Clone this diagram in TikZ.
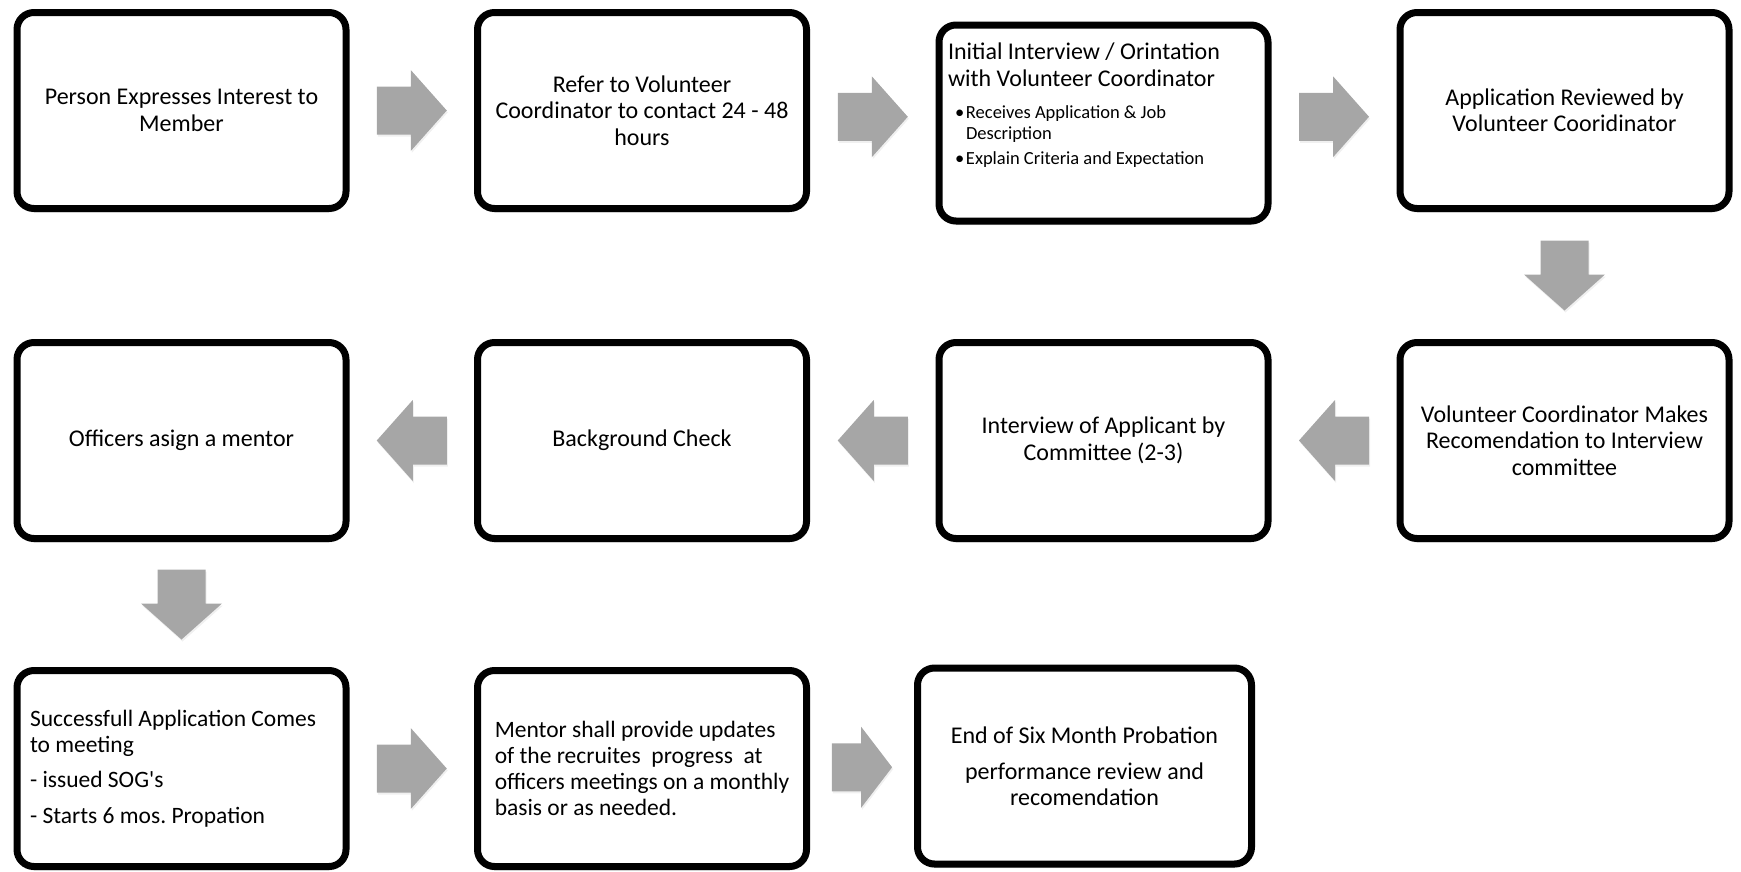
\documentclass[tikz,border=0pt]{standalone}
\usepackage{fontspec}
\setmainfont{Carlito}[Ligatures=TeXOff]
\usetikzlibrary{shadows,calc}
\definecolor{agray}{RGB}{166,166,166}
\tikzset{
  stepbox/.style={draw=black, line width=7pt, rounded corners=17pt, fill=white,
    minimum width=329pt, minimum height=196pt, inner sep=0pt,
    font=\fontsize{24}{26.5}\selectfont\frenchspacing, align=center,
    drop shadow={opacity=0.22, shadow xshift=0pt, shadow yshift=-4pt}},
  leftbox/.style={stepbox, align=flush left, font=\fontsize{23.5}{26}\selectfont\frenchspacing},
  blockarrow/.pic={\fill[agray, drop shadow={opacity=0.12, shadow xshift=1pt, shadow yshift=-2pt}]
    (-35,-24) -- (-1,-24) -- (-1,-40.5) -- (35,0) -- (-1,40.5) -- (-1,24) -- (-35,24) -- cycle;}
}
\begin{document}
\begin{tikzpicture}[x=1pt,y=-1pt]
\useasboundingbox (0,0) rectangle (1741,871);
% row 1
\node[stepbox] (b1) at (181.5,110.5) {Person Expresses Interest to\\Member};
\node[stepbox] (b2) at (642,110.5) {Refer to Volunteer\\Coordinator to contact 24 - 48\\hours};
\node[stepbox] (b3) at (1103.5,123) {\parbox[c][160pt][t]{311pt}{\raggedright
Initial Interview / Orintation\\with Volunteer Coordinator\par
\vspace{11pt}
{\fontsize{18.5}{21}\selectfont
\hspace*{7pt}\makebox[11pt][l]{\textbullet}Receives Application \& Job\\
\hspace*{18pt}Description\\[4pt]
\hspace*{7pt}\makebox[11pt][l]{\textbullet}Explain Criteria and Expectation\par}}};
\node[stepbox] (b4) at (1564.5,110.5) {Application Reviewed by\\Volunteer Cooridinator};
% row 2
\node[stepbox] (b5) at (1564.5,440.5) {Volunteer Coordinator Makes\\Recomendation to Interview\\committee};
\node[stepbox] (b6) at (1103.5,440.5) {Interview of Applicant by\\Committee (2-3)};
\node[stepbox] (b7) at (642,440.5) {Background Check};
\node[stepbox] (b8) at (181.5,440.5) {Officers asign a mentor};
% row 3
\node[leftbox, text width=303pt] (b9) at (181.5,768.5)
  {Successfull Application Comes\\to meeting\\[8.5pt]- issued SOG's\\[10pt]- Starts 6 mos. Propation};
\node[leftbox] (b10) at (642,768.5)
  {Mentor shall provide updates\\of the recruites\ \ progress\ \ at\\officers meetings on a monthly\\basis or as needed.};
\node[stepbox, minimum width=334pt] (b11) at (1084.5,766)
  {End of Six Month Probation\\[9.5pt]performance review and\\recomendation};
% arrows
\pic at ($(b1.east)!0.5!(b2.west)$) {blockarrow};
\pic at ($(b2.east)!0.5!(b3.west)$) {blockarrow};
\pic at ($(b3.east)!0.5!(b4.west)$) {blockarrow};
\pic[rotate=-90] at ($(b4.south)!0.5!(b5.north)$) {blockarrow};
\pic[rotate=180] at ($(b5.west)!0.5!(b6.east)$) {blockarrow};
\pic[rotate=180] at ($(b6.west)!0.5!(b7.east)$) {blockarrow};
\pic[rotate=180] at ($(b7.west)!0.5!(b8.east)$) {blockarrow};
\pic[rotate=-90] at ($(b8.south)!0.5!(b9.north)$) {blockarrow};
\pic at ($(b9.east)!0.5!(b10.west)$) {blockarrow};
\pic[xscale=0.86] at ($(b10.east)!0.5!(b11.west)$) {blockarrow};
\end{tikzpicture}
\end{document}
